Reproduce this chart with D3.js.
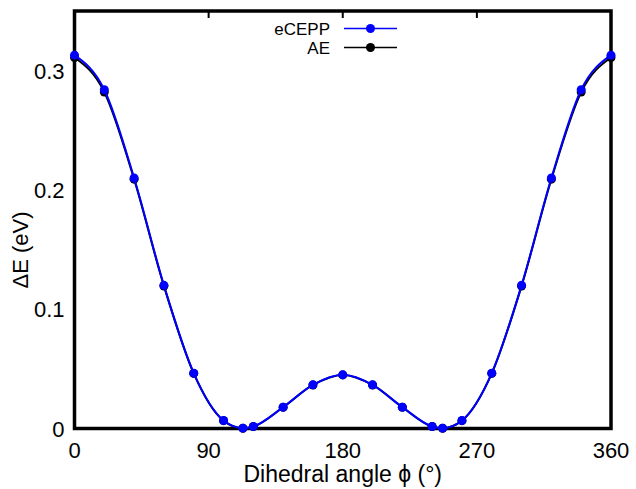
<!DOCTYPE html>
<html>
<head>
<meta charset="utf-8">
<script src="https://cdn.jsdelivr.net/npm/d3@7"></script>
<style>
body { margin: 0; background: #fff; }
text { font-family: "Liberation Sans", Arial, sans-serif; fill: #000; }
</style>
</head>
<body>
<script>
// dihedral scan, energies relative to minimum (eV)
var angles = [0, 20, 40, 60, 80, 100, 113, 120, 140, 160, 180, 200, 220, 240, 247, 260, 280, 300, 320, 340, 360];
var eCEPP = [0.313, 0.284, 0.210, 0.120, 0.0464, 0.0067, 0.0003, 0.0017, 0.0179, 0.0366, 0.045,
             0.0366, 0.0179, 0.0017, 0.0003, 0.0067, 0.0464, 0.120, 0.210, 0.284, 0.313];
var AE = [0.311, 0.282, 0.209, 0.1195, 0.0462, 0.0066, 0.0002, 0.0016, 0.0178, 0.0365, 0.0449,
          0.0365, 0.0178, 0.0016, 0.0002, 0.0066, 0.0462, 0.1195, 0.209, 0.282, 0.311];
var xTicks = [0, 90, 180, 270, 360];
var yTicks = [0, 0.1, 0.2, 0.3];

var width = 636;
var height = 489;
var margin = { left: 74.5, right: 25, top: 11, bottom: 60.5 };

var svg = d3.select("body").append("svg")
    .attr("width", width)
    .attr("height", height);

var x = d3.scaleLinear().domain([0, 360]).range([margin.left, width - margin.right]);
var y = d3.scaleLinear().domain([0, 0.35]).range([height - margin.bottom, margin.top]);

// frame
svg.append("rect")
    .attr("x", x(0))
    .attr("y", y(0.35))
    .attr("width", x(360) - x(0))
    .attr("height", y(0) - y(0.35))
    .attr("fill", "none")
    .attr("stroke", "#000")
    .attr("stroke-width", 3.5);

// inward ticks on top edge only
svg.selectAll(".topTick")
    .data(xTicks.slice(1, -1))
    .enter().append("line")
    .attr("x1", d => x(d)).attr("x2", d => x(d))
    .attr("y1", y(0.35)).attr("y2", y(0.35) + 7)
    .attr("stroke", "#000")
    .attr("stroke-width", 2);

svg.selectAll(".xlab")
    .data(xTicks)
    .enter().append("text")
    .attr("x", d => x(d))
    .attr("y", y(0) + 29)
    .attr("text-anchor", "middle")
    .attr("font-size", 22)
    .text(d => d);

svg.selectAll(".ylab")
    .data(yTicks)
    .enter().append("text")
    .attr("x", x(0) - 10)
    .attr("y", d => y(d) + 8)
    .attr("text-anchor", "end")
    .attr("font-size", 22)
    .text(d => d);

svg.append("text")
    .attr("x", (x(0) + x(360)) / 2)
    .attr("y", 482)
    .attr("text-anchor", "middle")
    .attr("font-size", 23)
    .text("Dihedral angle \u03d5 (\u00b0)");

svg.append("text")
    .attr("transform", "translate(28 250) rotate(-90)")
    .attr("text-anchor", "middle")
    .attr("font-size", 22)
    .text("\u0394E (eV)");

var series = [
    { name: "AE", values: AE, color: "#000" },
    { name: "eCEPP", values: eCEPP, color: "#0000ff" }
];

var line = d3.line()
    .x(d => x(d[0]))
    .y(d => y(d[1]))
    .curve(d3.curveMonotoneX);

series.forEach(function (s) {
    var pts = angles.map((a, i) => [a, s.values[i]]);
    svg.append("path")
        .datum(pts)
        .attr("d", line)
        .attr("fill", "none")
        .attr("stroke", s.color)
        .attr("stroke-width", 2);
    svg.append("g").selectAll("circle")
        .data(pts)
        .enter().append("circle")
        .attr("cx", d => x(d[0]))
        .attr("cy", d => y(d[1]))
        .attr("r", 4.5)
        .attr("fill", s.color);
});

// legend
var legend = [
    { name: "eCEPP", color: "#0000ff" },
    { name: "AE", color: "#000" }
];
var lg = svg.selectAll(".leg")
    .data(legend)
    .enter().append("g")
    .attr("transform", (d, i) => `translate(0 ${28.5 + i * 19})`);
lg.append("text")
    .attr("x", 330)
    .attr("y", 6)
    .attr("text-anchor", "end")
    .attr("font-size", 17)
    .text(d => d.name);
lg.append("line")
    .attr("x1", 344).attr("x2", 397)
    .attr("y1", 0).attr("y2", 0)
    .attr("stroke", d => d.color)
    .attr("stroke-width", 1.5);
lg.append("circle")
    .attr("cx", 370.5)
    .attr("cy", 0)
    .attr("r", 4.5)
    .attr("fill", d => d.color);
</script>
</body>
</html>
